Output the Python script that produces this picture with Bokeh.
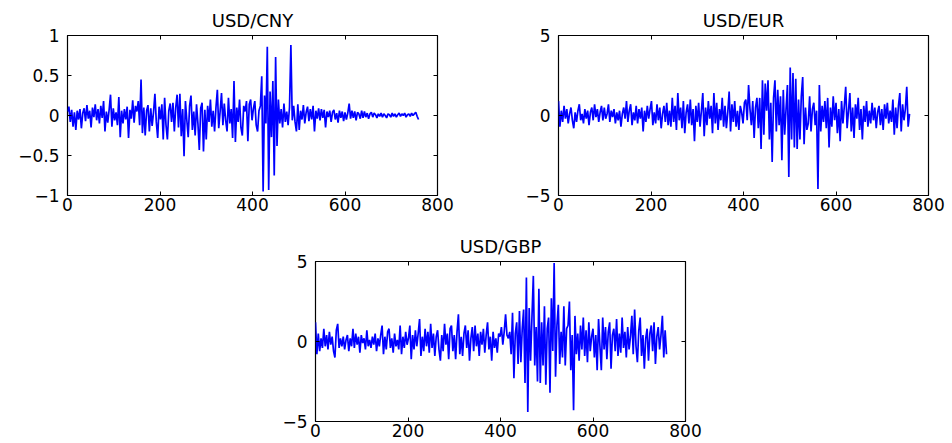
from bokeh.plotting import figure
from bokeh.layouts import column, row
from bokeh.models import Range1d, LinearAxis, FixedTicker, Spacer
from bokeh.embed import file_html
from bokeh.resources import INLINE

STEP = 3

usd_cny = [
    0.05, 0.11, -0.08, 0.07, -0.14, 0.04, -0.18, 0.06, -0.05, 0.08, -0.16, 0.03, 0.09, -0.07, 0.13, -0.04, 0.06, -0.15, 0.10, -0.02,
    0.14, -0.06, 0.08, -0.10, 0.12, -0.03, 0.18, -0.20, 0.05, -0.09, 0.07, 0.26, -0.14, 0.09, -0.06, 0.04, -0.12, 0.23, -0.27, 0.06,
    -0.10, 0.08, -0.05, 0.11, -0.28, 0.07, -0.04, 0.19, -0.09, 0.12, 0.05, 0.18, -0.12, 0.45, -0.22, 0.10, -0.25, 0.06, 0.13, -0.20,
    0.09, -0.13, 0.04, 0.27, -0.08, -0.28, 0.11, -0.05, 0.14, -0.30, 0.22, -0.12, -0.30, 0.06, 0.15, -0.08, 0.16, -0.20, 0.10, 0.26,
    -0.15, 0.27, -0.26, 0.08, -0.51, 0.18, -0.06, -0.27, 0.12, 0.25, -0.18, 0.05, -0.25, 0.14, -0.10, -0.43, 0.09, 0.16, -0.45, 0.07,
    -0.30, 0.12, -0.08, 0.20, -0.14, 0.06, -0.20, 0.10, 0.32, -0.16, 0.05, 0.28, -0.12, 0.15, -0.06, -0.20, 0.22, -0.10, 0.08, -0.28,
    0.43, -0.33, 0.10, -0.08, 0.20, -0.15, -0.25, 0.12, 0.05, 0.18, -0.32, 0.14, 0.20, -0.06, 0.09, 0.18, -0.12, -0.20, 0.06, 0.12,
    0.49, -0.95, 0.25, -0.10, 0.86, -0.93, 0.30, -0.27, 0.43, -0.75, 0.73, -0.38, 0.20, -0.10, 0.08, -0.15, 0.15, -0.08, 0.05, -0.12,
    0.10, 0.88, -0.06, 0.12, -0.08, -0.20, 0.14, -0.18, 0.06, -0.05, 0.13, -0.10, 0.04, 0.11, -0.07, 0.08, -0.05, 0.12, -0.20, 0.06,
    -0.04, 0.09, -0.06, 0.08, -0.03, 0.07, -0.15, 0.05, -0.02, 0.06, -0.08, 0.04, 0.07, -0.05, 0.03, -0.09, 0.06, -0.03, 0.05, -0.07,
    0.04, -0.05, 0.03, 0.15, -0.04, 0.06, -0.03, 0.05, -0.06, 0.04, 0.02, -0.04, 0.06, -0.03, 0.05, -0.02, 0.03, -0.04, 0.02, 0.04,
    -0.02, 0.03, 0.01, -0.03, 0.02, -0.01, 0.03, -0.02, 0.02, 0.00, -0.03, 0.02, 0.01, -0.02, 0.03, -0.01, 0.02, -0.02, 0.01, 0.03,
    -0.01, 0.02, 0.00, 0.03, -0.02, 0.01, 0.02, -0.01, 0.03, 0.00, 0.02, 0.04, -0.01, -0.05,
]

usd_eur = [
    0.9, -0.7, 0.3, -0.4, 0.6, -0.2, 0.4, -0.5, 0.1, 0.5, -0.3, -0.8, 0.2, -0.4, 0.3, 0.7, -0.3, 0.1, -0.5, 0.4,
    -0.2, 0.3, -0.6, 0.2, 0.5, -0.3, 0.7, -0.1, 0.4, -0.4, 0.2, 0.6, -0.3, 0.5, -0.2, 0.1, 0.7, -0.4, 0.3, -0.1,
    0.4, -0.5, 0.2, -0.3, 0.3, -0.7, 0.1, 0.5, -0.2, 0.9, -0.4, 0.3, 0.7, -0.6, 0.2, -0.3, 0.6, -0.5, 0.4, -0.2,
    0.5, -1.0, 0.3, -0.4, 0.6, -0.2, 0.4, 0.9, -0.6, 0.2, -0.5, 0.7, -0.3, 0.5, -0.8, 0.1, 0.6, -0.4, 0.8, -0.6,
    0.3, -0.7, 1.1, -0.4, 0.6, -0.9, 1.4, -0.3, 0.5, -0.8, 0.9, -1.1, 0.2, 0.7, -0.5, 1.0, -0.6, 0.4, -1.6, 0.6,
    -0.4, 0.8, -0.7, 0.3, 1.4, -1.3, 0.5, -0.6, 0.9, -0.2, 0.6, -1.1, 1.4, -0.5, 0.8, -0.9, 0.4, -0.3, 1.1, -0.7,
    0.6, -0.8, 0.2, 1.5, -1.0, 0.7, -0.4, 0.9, -0.7, 0.3, -0.9, 0.6, 0.2, -0.5, 0.8, 1.0, -0.3, 1.9, 0.4, -0.6,
    0.9, -1.4, 0.5, 1.1, -0.8, 1.1, -2.1, 2.2, -1.2, 2.0, 0.3, 2.2, -1.5, 0.8, -2.9, 1.1, 2.2, -1.0, 1.6, -0.6,
    1.2, -2.8, 1.6, -1.2, 0.4, 1.9, -3.85, 3.0, -1.5, 2.65, -2.0, 2.3, -2.1, 1.0, -1.5, 1.2, 2.4, -1.8, 0.5, -0.9,
    -0.5, 1.2, -1.0, 0.4, 0.8, -0.6, 0.3, -4.6, 1.9, -1.0, 0.6, -0.4, 0.9, -0.8, 1.1, -2.0, 0.5, -0.7, 1.2, -0.3,
    0.8, -1.1, 0.4, -1.6, 0.9, -0.5, 0.6, 1.8, -0.8, 0.3, 1.4, -1.0, 0.5, -1.4, 0.7, -0.2, 1.1, -0.9, 0.4, -1.5,
    0.6, -0.4, 0.9, -0.7, 0.3, -0.5, 0.8, -0.3, 0.5, -0.8, 0.2, 0.6, -0.6, 0.4, -0.9, 0.7, -0.2, 0.8, -0.5, 0.3,
    -0.4, 1.0, -1.2, 0.5, -0.8, 0.6, 1.4, -1.0, 0.7, -0.3, 0.4, 1.8, -0.7, 0.1,
]

usd_gbp = [
    1.2, -0.8, 0.5, -0.6, 0.2, -0.4, 0.8, -0.3, 0.4, -0.5, 0.6, -0.2, 0.3, -0.6, -1.0, 0.7, 1.1, -0.4, 0.2, -0.3,
    0.3, -0.5, 0.1, 0.4, -0.6, 0.2, -0.3, 0.8, -0.4, 0.5, -0.2, 0.3, -0.7, 0.4, -0.1, 0.2, -0.5, 0.7, -0.3, 0.1,
    -0.4, 0.3, -0.2, 0.5, -0.6, 0.2, -0.3, 0.4, 1.0, -0.8, 0.3, -0.5, 0.6, 0.8, -0.4, 0.2, -0.7, 0.5, -0.3, 0.1,
    -0.5, 1.0, -0.8, 0.3, -0.4, 0.6, -0.2, 0.2, 1.0, -1.1, 0.4, -0.5, 0.7, -0.3, 0.5, 1.4, -0.9, 0.3, -0.6, 0.8,
    -0.3, 0.6, -0.7, 1.1, -0.4, 0.5, -0.9, 0.3, 0.7, -0.5, -1.2, 0.4, -0.6, 1.1, -0.2, 0.5, -1.1, 0.8, 1.0, -0.6,
    0.4, -1.1, 0.6, 1.7, -0.8, 0.3, -0.9, 0.5, 1.0, -0.4, 0.7, -1.2, 0.2, 0.9, -0.6, 1.0, -0.3, 0.5, -0.9, 0.6,
    -0.2, 0.8, -0.7, 0.4, 1.2, -0.5, 0.3, -1.2, 0.6, -0.4, 0.2, -0.7, 0.5, 0.3, 0.9, -0.2, 0.6, 1.7, 0.4, 0.2,
    0.6, -0.8, 1.8, -2.3, 0.5, 1.2, -1.4, 1.9, -1.3, 0.8, 2.0, -2.6, 4.0, -4.4, 2.1, -1.2, 1.5, 4.1, -1.5, 0.9,
    -2.5, 3.3, -2.6, 1.2, -1.5, 2.2, -2.7, 0.8, 1.5, -3.2, 2.7, -0.6, 4.9, -2.2, 1.0, 2.3, -1.4, 0.6, -1.0, 2.2,
    -1.5, 0.8, 1.0, 2.5, -1.8, 0.4, -4.3, 1.6, -0.8, 0.5, -1.2, 1.0, -0.5, 1.5, -0.9, 0.7, -1.3, 1.2, -0.6, 0.3,
    0.8, -1.0, 0.4, -1.8, 1.4, -0.3, -1.8, 1.5, -0.5, 0.9, -1.1, 0.6, 1.2, -1.7, 0.4, 0.8, -0.6, 1.4, -0.9, 0.5,
    -0.7, 1.5, -0.4, 0.6, -1.0, 0.9, -0.5, 0.3, 1.6, -0.8, 2.0, -0.3, -1.3, 0.7, 1.5, -0.9, 0.4, -1.7, 0.2, 0.8,
    -1.2, 0.5, 1.0, -0.6, 1.2, -1.4, 0.3, 0.9, -0.5, 0.4, 1.6, -1.0, 0.7, -0.8,
]

titles = ["USD/CNY", "USD/EUR", "USD/GBP"]
x_ticks = [0, 200, 400, 600, 800]
cny_ticks = [-1, -0.5, 0, 0.5, 1]
cny_tick_labels = ["\u22121", "\u22120.5", "0", "0.5", "1"]
fx_ticks = [-5, 0, 5]
fx_tick_labels = ["\u22125", "0", "5"]

FONT = "DejaVu Sans"
TICK_SIZE = "17px"
TITLE_SIZE = "18px"


def make_panel(title, ys, yr, yticks, ylabels, w, h, bl, br, bt, bb):
    xs = [i * STEP for i in range(len(ys))]
    p = figure(width=w, height=h, title=title,
               x_range=Range1d(0, 800), y_range=Range1d(yr[0], yr[1]),
               output_backend="svg", toolbar_location=None,
               min_border_left=bl, min_border_right=br,
               min_border_top=bt, min_border_bottom=bb,
               background_fill_color="white", border_fill_color="white")
    p.line(xs, ys, line_color="#0000ff", line_width=1.7)
    p.grid.visible = False
    p.outline_line_color = "black"
    p.outline_line_width = 1.2

    p.title.align = "center"
    p.title.vertical_align = "top"
    p.title.text_font = FONT
    p.title.text_font_size = TITLE_SIZE
    p.title.text_font_style = "normal"
    p.title.text_color = "black"
    p.title.standoff = 6

    xa = p.xaxis[0]
    xa.ticker = FixedTicker(ticks=x_ticks)
    ya = p.yaxis[0]
    ya.ticker = FixedTicker(ticks=yticks)
    ya.major_label_overrides = {t: l for t, l in zip(yticks, ylabels)}
    for ax, sd in ((xa, 2), (ya, 8)):
        ax.axis_line_color = None
        ax.major_tick_in = 4
        ax.major_tick_out = 0
        ax.major_tick_line_color = "black"
        ax.minor_tick_line_color = None
        ax.major_label_text_font = FONT
        ax.major_label_text_font_size = TICK_SIZE
        ax.major_label_text_color = "black"
        ax.major_label_standoff = sd

    # mirrored tick marks on the top and right edges (no labels)
    top = LinearAxis(ticker=FixedTicker(ticks=x_ticks), axis_line_color=None,
                     major_tick_in=4, major_tick_out=0, minor_tick_line_color=None,
                     major_label_text_color=None, major_label_text_font_size="1px",
                     major_label_standoff=0)
    right = LinearAxis(ticker=FixedTicker(ticks=yticks), axis_line_color=None,
                       major_tick_in=4, major_tick_out=0, minor_tick_line_color=None,
                       major_label_text_color=None, major_label_text_font_size="1px",
                       major_label_standoff=0)
    p.add_layout(top, "above")
    p.add_layout(right, "right")
    return p


p1 = make_panel(titles[0], usd_cny, (-1, 1), cny_ticks, cny_tick_labels, 476, 225, 67, 39, 35, 30)
p2 = make_panel(titles[1], usd_eur, (-5, 5), fx_ticks, fx_tick_labels, 476, 225, 82, 24, 35, 30)
p3 = make_panel(titles[2], usd_gbp, (-5, 5), fx_ticks, fx_tick_labels, 476, 218, 75, 31, 36, 22)

layout = column(row(p1, p2), row(Spacer(width=240, height=218), p3))

with open("out.html", "w") as f:
    f.write(file_html(layout, INLINE))
